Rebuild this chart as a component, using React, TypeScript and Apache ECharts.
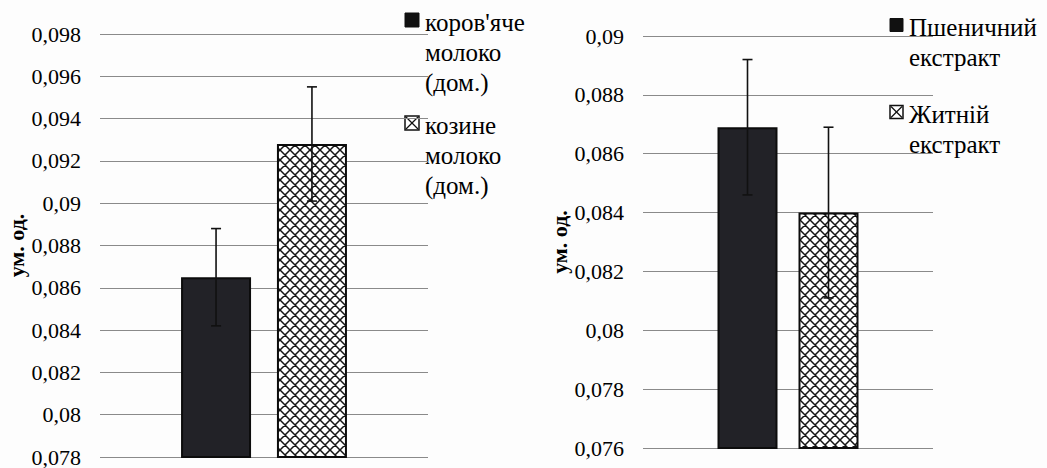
import React, { useEffect, useRef } from "react";
import * as echarts from "echarts";

// ---- data ----
const categories = [""];
const yAxisTitle = "ум. од.";

const leftNames = ["коров'яче\nмолоко\n(дом.)", "козине\nмолоко\n(дом.)"];
const leftValues = [0.0865, 0.0928];
const leftErrors = [0.0023, 0.0027];
const leftMin = 0.078;
const leftMax = 0.098;

const rightNames = ["Пшеничний\nекстракт", "Житній\nекстракт"];
const rightValues = [0.0869, 0.084];
const rightErrors = [0.0023, 0.0029];
const rightMin = 0.076;
const rightMax = 0.09;

const tickStep = 0.002;

// ---- styling ----
const FONT = "Liberation Serif";
const DARK = "#222227";
const TILE = 10;

function makeHatch(): HTMLCanvasElement {
  const c = document.createElement("canvas");
  c.width = TILE;
  c.height = TILE;
  const g = c.getContext("2d")!;
  g.fillStyle = "#ffffff";
  g.fillRect(0, 0, TILE, TILE);
  g.strokeStyle = "#151515";
  g.lineWidth = 1.5;
  g.beginPath();
  for (const dx of [-TILE, 0, TILE]) {
    g.moveTo(dx - 1, -1);
    g.lineTo(dx + TILE + 1, TILE + 1);
    g.moveTo(dx + TILE + 1, -1);
    g.lineTo(dx - 1, TILE + 1);
  }
  g.stroke();
  return c;
}

const fmt = (v: number) => String(parseFloat(v.toFixed(3))).replace(".", ",");

export default function App() {
  const ref = useRef<HTMLDivElement>(null);

  useEffect(() => {
    if (!ref.current) return;
    const chart = echarts.init(ref.current, undefined, { renderer: "svg" });
    const hatchFill: any = { image: makeHatch(), repeat: "repeat" };

    const makeAxisY = (gridIndex: number, min: number, max: number) => ({
      type: "value",
      gridIndex,
      min,
      max,
      interval: tickStep,
      name: yAxisTitle,
      nameLocation: "middle",
      nameGap: 72,
      nameTextStyle: { fontFamily: FONT, fontWeight: "bold", fontSize: 22, color: "#000" },
      axisLine: { show: false },
      axisTick: { show: false },
      axisLabel: { formatter: fmt, fontFamily: FONT, fontSize: 22, color: "#000", margin: 19 },
      splitLine: { show: true, lineStyle: { color: "#8a8a8a", width: 1 } },
    });

    const makeAxisX = (gridIndex: number) => ({
      type: "category",
      gridIndex,
      data: categories,
      axisLine: { show: false },
      axisTick: { show: false },
      axisLabel: { show: false },
      splitLine: { show: false },
    });

    const errorSeries = (axisIndex: number, values: number[], errors: number[], offset: number) => ({
      type: "custom",
      xAxisIndex: axisIndex,
      yAxisIndex: axisIndex,
      z: 5,
      encode: { x: 0, y: [1, 2] },
      data: values.map((v, k) => [0, v - errors[k], v + errors[k], k]),
      renderItem: (params: any, api: any) => {
        const low = api.value(1);
        const high = api.value(2);
        const k = api.value(3);
        const pTop = api.coord([0, high]);
        const pBot = api.coord([0, low]);
        const x = pTop[0] + (k === 0 ? -offset : offset);
        const cap = 5;
        const st = { stroke: "#111", lineWidth: 1.6 };
        return {
          type: "group",
          children: [
            { type: "line", shape: { x1: x, y1: pTop[1], x2: x, y2: pBot[1] }, style: st },
            { type: "line", shape: { x1: x - cap, y1: pTop[1], x2: x + cap, y2: pTop[1] }, style: st },
            { type: "line", shape: { x1: x - cap, y1: pBot[1], x2: x + cap, y2: pBot[1] }, style: st },
          ],
        };
      },
    });

    const barSeries = (axisIndex: number, names: string[], values: number[], barWidth: number, barGap: string) =>
      names.map((name, k) => ({
        type: "bar",
        name,
        xAxisIndex: axisIndex,
        yAxisIndex: axisIndex,
        data: [values[k]],
        barWidth,
        barGap,
        itemStyle: { color: k === 0 ? DARK : hatchFill, borderColor: "#0c0c0c", borderWidth: 2 },
        z: 2,
      }));

    // legend drawn as graphic: icon aligned to the first text line
    const legendGraphic = (
      names: string[],
      iconX: number,
      iconSize: number,
      textX: number,
      firstCenter: number,
      itemStep: number,
      lineStep: number,
      fontSize: number
    ) => {
      const els: any[] = [];
      names.forEach((name, k) => {
        const c0 = firstCenter + k * itemStep;
        const ix = iconX;
        const iy = c0 - 2 - iconSize / 2;
        if (k === 0) {
          els.push({ type: "rect", shape: { x: ix, y: iy, width: iconSize, height: iconSize }, style: { fill: "#111", stroke: "#111", lineWidth: 1 } });
        } else {
          els.push({ type: "rect", shape: { x: ix, y: iy, width: iconSize, height: iconSize }, style: { fill: "#fff", stroke: "#111", lineWidth: 1.5 } });
          els.push({ type: "line", shape: { x1: ix + 1, y1: iy + 1, x2: ix + iconSize - 1, y2: iy + iconSize - 1 }, style: { stroke: "#111", lineWidth: 1.2 } });
          els.push({ type: "line", shape: { x1: ix + iconSize - 1, y1: iy + 1, x2: ix + 1, y2: iy + iconSize - 1 }, style: { stroke: "#111", lineWidth: 1.2 } });
        }
        name.split("\n").forEach((line, li) => {
          els.push({
            type: "text",
            x: textX,
            y: c0 + li * lineStep - fontSize / 2,
            style: { text: line, fontFamily: FONT, fontSize, fill: "#000" },
          });
        });
      });
      return els;
    };

    const option: any = {
      animation: false,
      backgroundColor: "#fdfdfd",
      grid: [
        { left: 100, right: 1047 - 428, top: 34, bottom: 468 - 458 },
        { left: 643, right: 1047 - 933, top: 36, bottom: 468 - 448 },
      ],
      xAxis: [makeAxisX(0), makeAxisX(1)],
      yAxis: [makeAxisY(0, leftMin, leftMax), makeAxisY(1, rightMin, rightMax)],
      series: [
        ...barSeries(0, leftNames, leftValues, 70, "37%"),
        ...barSeries(1, rightNames, rightValues, 60, "35%"),
        errorSeries(0, leftValues, leftErrors, (70 + 70 * 0.37) / 2),
        errorSeries(1, rightValues, rightErrors, (60 + 60 * 0.35) / 2),
      ],
      graphic: [
        ...legendGraphic(leftNames, 405, 14, 425, 22, 103, 30, 25),
        ...legendGraphic(rightNames, 890, 13, 909, 27, 87, 30, 25),
      ],
    };

    chart.setOption(option);
    return () => chart.dispose();
  }, []);

  return <div ref={ref} style={{ position: "absolute", left: 0, top: 0, width: 1047, height: 468 }} />;
}
